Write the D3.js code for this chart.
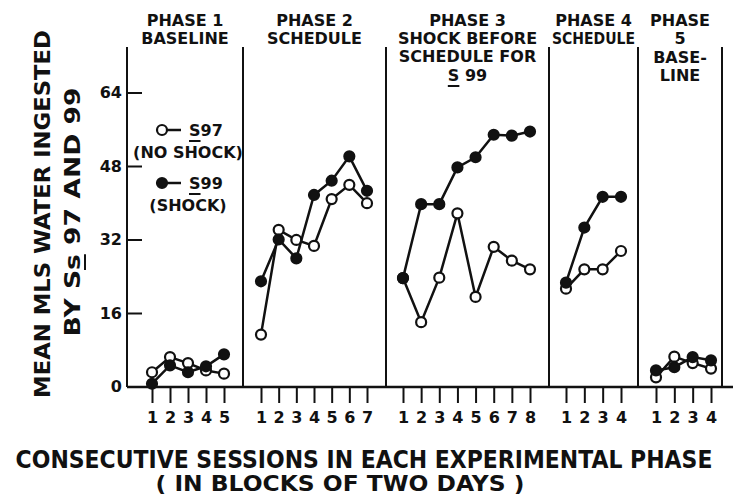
<!DOCTYPE html>
<html lang="en">
<head>
<meta charset="UTF-8">
<title>Water ingested by S97 and S99</title>
<script src="https://d3js.org/d3.v7.min.js"></script>
<style>
    body { margin: 0; background: #fff; }
    text { font-family: "DejaVu Sans", sans-serif; font-weight: bold; fill: #111; }
</style>
</head>
<body>
<script>

// data (mls water, per block of two days)
var phaseNames = [['PHASE 1', 'BASELINE'], ['PHASE 2', 'SCHEDULE'], ['PHASE 3', 'SHOCK BEFORE', 'SCHEDULE  FOR', 'S 99'], ['PHASE 4', 'SCHEDULE'], ['PHASE', '5', 'BASE-', 'LINE']]
var sessions = [[1, 2, 3, 4, 5], [1, 2, 3, 4, 5, 6, 7], [1, 2, 3, 4, 5, 6, 7, 8], [1, 2, 3, 4], [1, 2, 3, 4]]
var s97 = [
    [3.1, 6.4, 5.1, 3.5, 2.8],
    [11.3, 34.1, 31.9, 30.6, 40.8, 43.9, 39.9],
    [23.6, 14.0, 23.7, 37.7, 19.5, 30.4, 27.4, 25.5],
    [21.3, 25.5, 25.5, 29.5],
    [2.0, 6.5, 5.1, 3.9]
]
var s99 = [
    [0.6, 4.6, 3.1, 4.4, 7.0],
    [22.9, 32.0, 27.9, 41.7, 44.8, 50.1, 42.6],
    [23.6, 39.7, 39.7, 47.7, 49.9, 54.8, 54.6, 55.5],
    [22.6, 34.6, 41.3, 41.3],
    [3.5, 4.2, 6.4, 5.7]
]
var yTicks = [0, 16, 32, 48, 64]

// layout
var w = 733, h = 497
var frameTop = 47, frameBottom = 387, frameLeft = 127
var dividers = [127, 243, 386, 549, 638, 722]
var tickRanges = [[152, 224], [261, 367], [403, 530], [566, 621], [656, 711]]

var svg = d3.select('body').append('svg')
    .attr('width', w)
    .attr('height', h)

var yScale = d3.scaleLinear().domain([0, 64]).range([386.5, 92.5])

//frame
svg.append('line')
    .attr('x1', frameLeft).attr('x2', w).attr('y1', frameBottom).attr('y2', frameBottom)
    .attr('stroke', '#111').attr('stroke-width', 2.5)
svg.selectAll('.divider')
    .data(dividers)
    .enter()
    .append('line')
    .attr('class', 'divider')
    .attr('x1', d => d).attr('x2', d => d)
    .attr('y1', frameTop).attr('y2', frameBottom)
    .attr('stroke', '#111').attr('stroke-width', 2)

//y axis, ticks pointing inward
var yAxis = svg.append('g')
    .attr('transform', 'translate(' + frameLeft + ',0)')
    .call(d3.axisLeft(yScale).tickValues(yTicks).tickSizeInner(-15).tickSizeOuter(0).tickPadding(5))
yAxis.select('.domain').remove()
yAxis.selectAll('line').attr('stroke', '#111').attr('stroke-width', 2)
yAxis.selectAll('text').style('font-size', '16px').style('font-family', null).attr('fill', '#111')

// squeeze a text horizontally if it is wider than the room it has
function fit(txt, width) {
    var n = txt.node().getComputedTextLength()
    if (n > width) txt.attr('textLength', width).attr('lengthAdjust', 'spacingAndGlyphs')
}

function underline(txt, i) {
    var node = txt.node()
    var a = node.getStartPositionOfChar(i), b = node.getEndPositionOfChar(i)
    d3.select(node.parentNode).append('line')
        .attr('x1', a.x).attr('x2', b.x)
        .attr('y1', a.y + 5).attr('y2', a.y + 5)
        .attr('stroke', '#111').attr('stroke-width', 2)
}

//phases
var line = d3.line()

phaseNames.forEach(function (names, p) {
    var xScale = d3.scaleLinear()
        .domain([1, sessions[p].length])
        .range(tickRanges[p])

    var ax = svg.append('g')
        .attr('transform', 'translate(0,' + frameBottom + ')')
        .call(d3.axisBottom(xScale).tickValues(sessions[p]).tickFormat(d3.format('d')).tickSize(16).tickPadding(9))
    ax.select('.domain').remove()
    ax.selectAll('line').attr('stroke', '#111').attr('stroke-width', 2)
    ax.selectAll('text').style('font-size', '16px').style('font-family', null).attr('fill', '#111')

    // header
    var cx = (dividers[p] + dividers[p + 1]) / 2
    var rowY = p == 4 ? [20, 38, 57, 75] : [20, 38, 56, 75]
    names.forEach(function (t, i) {
        var txt = svg.append('text')
            .attr('x', cx)
            .attr('y', rowY[i] + 6)
            .attr('text-anchor', 'middle')
            .style('font-size', '16px')
            .text(t)
        fit(txt, dividers[p + 1] - dividers[p] - 6)
        if (t == 'S 99') underline(txt, 0)
    })

    var series = [
        { vals: s97[p], fill: '#fff' },
        { vals: s99[p], fill: '#111' }
    ]
    series.forEach(function (s) {
        var pts = s.vals.map((v, i) => [xScale(sessions[p][i]), yScale(v)])
        svg.append('path')
            .attr('d', line(pts))
            .attr('fill', 'none')
            .attr('stroke', '#111')
            .attr('stroke-width', 2.5)
        svg.append('g').selectAll('circle')
            .data(pts)
            .enter()
            .append('circle')
            .attr('cx', d => d[0])
            .attr('cy', d => d[1])
            .attr('r', 5)
            .attr('fill', s.fill)
            .attr('stroke', '#111')
            .attr('stroke-width', 2.2)
    })
})

//legend
var legend = [
    { name: 'S97', note: '(NO SHOCK)', fill: '#fff', y: 130 },
    { name: 'S99', note: '(SHOCK)', fill: '#111', y: 183 }
]
legend.forEach(function (l) {
    svg.append('line')
        .attr('x1', 162).attr('x2', 181).attr('y1', l.y).attr('y2', l.y)
        .attr('stroke', '#111').attr('stroke-width', 2.5)
    svg.append('circle')
        .attr('cx', 162).attr('cy', l.y).attr('r', 5)
        .attr('fill', l.fill).attr('stroke', '#111').attr('stroke-width', 2.2)
    var t = svg.append('text')
        .attr('x', 189).attr('y', l.y + 6)
        .style('font-size', '16px')
        .text(l.name)
    underline(t, 0)
    svg.append('text')
        .attr('x', 188).attr('y', l.y + 28)
        .attr('text-anchor', 'middle')
        .style('font-size', '16px')
        .text(l.note)
})

//axis titles: big text, squeezed sideways to the width it has in the figure
function title(transform, str, size, width) {
    var g = svg.append('g')
    var t = g.append('text')
        .attr('text-anchor', 'middle')
        .style('font-size', size + 'px')
        .text(str)
    var n = t.node().getComputedTextLength()
    g.attr('transform', transform + ' scale(' + (width / n) + ',1)')
    return t
}
title('translate(50,214) rotate(-90)', 'MEAN  MLS  WATER  INGESTED', 22, 368)
var by = title('translate(80,212) rotate(-90)', 'BY  Ss  97  AND  99', 22, 249)
underline(by, 4)

title('translate(364,468)', 'CONSECUTIVE  SESSIONS  IN  EACH  EXPERIMENTAL  PHASE', 24, 697)
title('translate(340,491)', '( IN  BLOCKS  OF  TWO  DAYS )', 21, 369)

</script>
</body>
</html>
